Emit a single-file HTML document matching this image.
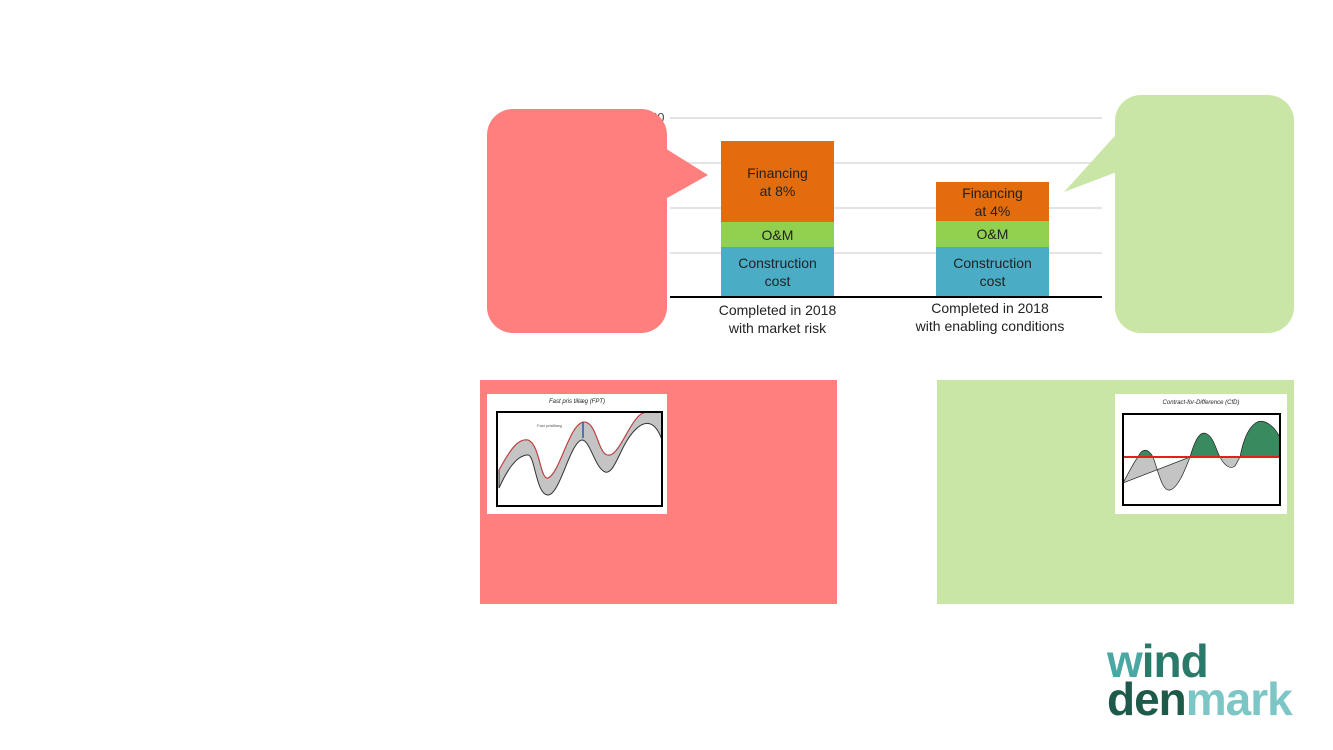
<!DOCTYPE html>
<html><head><meta charset="utf-8"><style>
body{margin:0;width:1333px;height:750px;background:#fff;position:relative;overflow:hidden;font-family:"Liberation Sans",sans-serif}
.a{position:absolute}
.g{position:absolute;left:670px;width:432px;height:2px;background:#e4e4e4}
.seg{position:absolute;display:flex;align-items:center;justify-content:center;text-align:center;font-size:14px;line-height:18px;color:#222}
.lbl{position:absolute;text-align:center;font-size:14px;line-height:18px;color:#222}
</style></head><body>
<div class="g" style="top:117px"></div>
<div class="g" style="top:162px"></div>
<div class="g" style="top:207px"></div>
<div class="g" style="top:252px"></div>
<div class="a" style="left:670px;top:296px;width:432px;height:2px;background:#000"></div>

<div class="seg" style="left:721px;top:141px;width:113px;height:81px;background:#e36c0d">Financing<br>at 8%</div>
<div class="seg" style="left:721px;top:222px;width:113px;height:25px;background:#92d050">O&amp;M</div>
<div class="seg" style="left:721px;top:247px;width:113px;height:49px;background:#4bacc6">Construction<br>cost</div>
<div class="seg" style="left:936px;top:182px;width:113px;height:39px;background:#e36c0d">Financing<br>at 4%</div>
<div class="seg" style="left:936px;top:221px;width:113px;height:26px;background:#92d050">O&amp;M</div>
<div class="seg" style="left:936px;top:247px;width:113px;height:49px;background:#4bacc6">Construction<br>cost</div>
<div class="lbl" style="left:690px;top:301px;width:175px">Completed in 2018<br>with market risk</div>
<div class="lbl" style="left:890px;top:299px;width:200px">Completed in 2018<br>with enabling conditions</div>

<svg class="a" style="left:0;top:0" width="1333" height="750">
<text x="650" y="122" font-size="13" fill="#444">50</text>
<rect x="487" y="109" width="180" height="224" rx="26" fill="#ff7f7e"/>
<polygon points="660,145 708,175 660,202" fill="#ff7f7e"/>
<rect x="1115" y="95" width="179" height="238" rx="26" fill="#c9e6a6"/>
<polygon points="1122,128 1064,192 1122,170" fill="#c9e6a6"/>
<rect x="480" y="380" width="357" height="224" fill="#ff7f7e"/>
<rect x="937" y="380" width="357" height="224" fill="#c9e6a6"/>
<rect x="487" y="394" width="180" height="120" fill="#fff"/>
<text x="577" y="403" font-size="6" font-style="italic" text-anchor="middle" fill="#222">Fast pris tillæg (FPT)</text>
<path d="M499,470 C510,450 518,438 528,440 C540,444 540,480 548,478 C560,474 570,420 585,422 C598,424 598,458 610,455 C622,452 632,412 647,412 L662,412 L662,440 C655,420 645,420 635,430 C620,445 615,475 605,472 C595,468 590,440 582,440 C570,442 560,495 548,495 C536,495 535,455 528,455 C515,455 505,475 499,488 Z" fill="#c4c4c4" stroke="#333" stroke-width="1"/>
<path d="M499,470 C510,450 518,438 528,440 C540,444 540,480 548,478 C560,474 570,420 585,422 C598,424 598,458 610,455 C622,452 632,412 647,412" fill="none" stroke="#d04040" stroke-width="1"/>
<line x1="583" y1="422" x2="583" y2="438" stroke="#2060a0" stroke-width="1.5"/>
<text x="537" y="427" font-size="4" fill="#555">Fast pristillæg</text>
<rect x="497" y="412" width="165" height="94" fill="none" stroke="#000" stroke-width="2"/>
<rect x="1115" y="394" width="172" height="120" fill="#fff"/>
<text x="1201" y="404" font-size="6" font-style="italic" text-anchor="middle" fill="#222">Contract-for-Difference (CfD)</text>
<path d="M1138,457 C1142,448 1148,448 1153,457 Z M1190,457 C1195,440 1200,430 1207,434 C1214,438 1216,450 1220,457 Z M1240,457 C1245,430 1255,418 1265,422 C1275,426 1278,435 1280,437 L1280,457 Z" fill="#3a8a5f" stroke="#222" stroke-width="0.7"/>
<path d="M1123,483 C1130,470 1134,462 1138,457 L1153,457 C1158,470 1162,492 1170,490 C1178,488 1185,470 1190,457 Z M1220,457 C1224,465 1230,470 1235,466 L1240,457 Z" fill="#c4c4c4" stroke="#222" stroke-width="0.7"/>
<line x1="1123" y1="457" x2="1280" y2="457" stroke="#e02020" stroke-width="2"/>
<rect x="1123" y="414" width="157" height="91" fill="none" stroke="#000" stroke-width="2"/>
</svg>

<div class="a" style="left:1107px;top:642px;font-size:46px;font-weight:bold;line-height:38px;letter-spacing:-1px">
<span style="color:#4aa7a3">w</span><span style="color:#2a7a6a">ind</span><br>
<span style="color:#1e5a4a">den</span><span style="color:#7cc6c6">mark</span>
</div>
</body></html>
